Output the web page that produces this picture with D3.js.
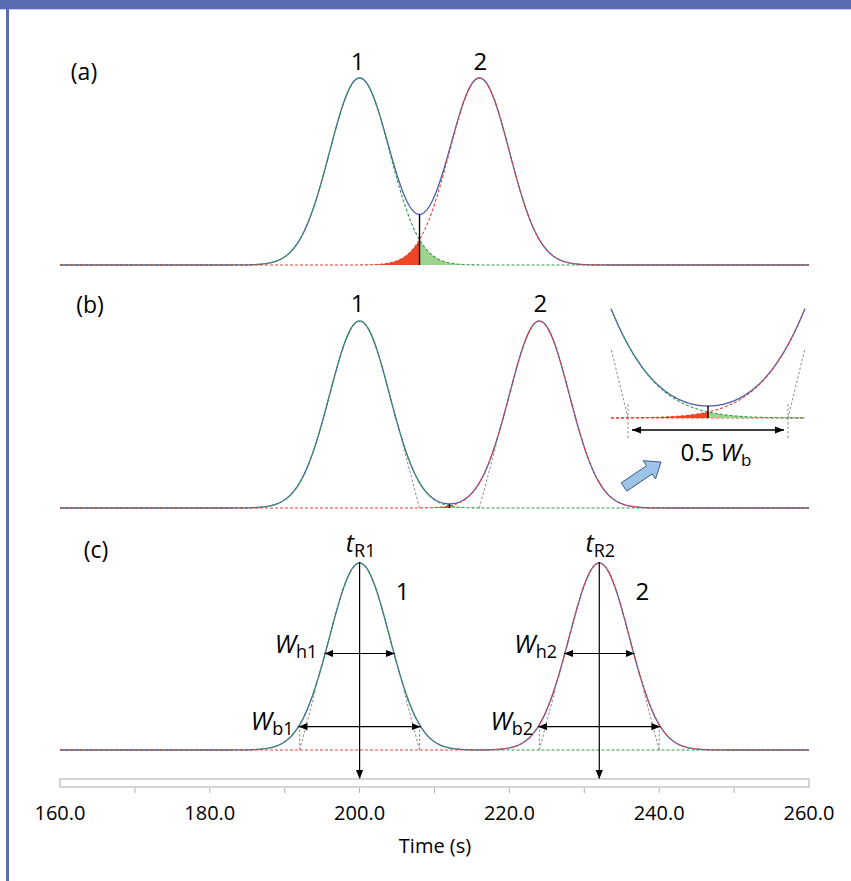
<!DOCTYPE html>
<html>
<head>
<meta charset="utf-8">
<script src="https://cdn.jsdelivr.net/npm/d3@7"></script>
<style>
  body { margin: 0; background: #fff; }
  text { font-family: "Open Sans", "Noto Sans", sans-serif; fill: #000; }
</style>
</head>
<body>
<div id="chart"></div>
<script>
// peak parameters (seconds, relative height)
const panelLabels = ["(a)", "(b)", "(c)"];
const peak1Times = [200, 200, 200];
const peak2Times = [216, 224, 232];
const peakSigma = [4, 4, 4];
const peakHeight = [1, 1, 1];
const tickValues = [170, 180, 190, 200, 210, 220, 230, 240, 250];
const tickLabelValues = [160, 180, 200, 220, 240, 260];
const timeDomain = [160, 260];

const width = 851;
const height = 881;
const baselines = [265, 508, 750];
const peakPx = 187;

const blue = "#4a5fae", green = "#2f9a4c", red = "#e8403a";
const redFill = "#ee4522", greenFill = "#9ed38d", grey = "#8c8c8c";

const svg = d3.select("#chart").append("svg")
  .attr("width", width)
  .attr("height", height);

const defs = svg.append("defs");
defs.append("marker")
  .attr("id", "head")
  .attr("viewBox", "0 0 10 10")
  .attr("refX", 10).attr("refY", 5)
  .attr("markerWidth", 9).attr("markerHeight", 9)
  .attr("markerUnits", "userSpaceOnUse")
  .attr("orient", "auto-start-reverse")
  .append("path").attr("d", "M0,1 L10,5 L0,9 z").attr("fill", "#000");

// frame
svg.append("rect").attr("x", 0).attr("y", 0).attr("width", width).attr("height", 9).attr("fill", "#5b6cb4");
svg.append("rect").attr("x", 0).attr("y", 9).attr("width", width).attr("height", 1).attr("fill", "#c9cfe9");
svg.append("rect").attr("x", 6).attr("y", 0).attr("width", 3).attr("height", height).attr("fill", "#5b6cb4");

const x = d3.scaleLinear().domain(timeDomain).range([60, 809]);
const gauss = (t, mu, s, h) => h * Math.exp(-0.5 * ((t - mu) / s) ** 2);
const ts = d3.range(timeDomain[0], timeDomain[1] + 0.001, 0.1);

function drawCurves(g, xs, ys, times, i) {
  const m1 = peak1Times[i], m2 = peak2Times[i], s = peakSigma[i], h = peakHeight[i];
  const p1 = t => gauss(t, m1, s, h), p2 = t => gauss(t, m2, s, h);
  const line = f => d3.line().x(t => xs(t)).y(t => ys(f(t)))(times);
  g.append("path").attr("d", line(t => p1(t) + p2(t)))
    .attr("fill", "none").attr("stroke", blue).attr("stroke-width", 1.3);
  g.append("path").attr("d", line(p1))
    .attr("fill", "none").attr("stroke", green).attr("stroke-width", 1.1).attr("stroke-dasharray", "3,2");
  g.append("path").attr("d", line(p2))
    .attr("fill", "none").attr("stroke", red).attr("stroke-width", 1.1).attr("stroke-dasharray", "3,2");
}

function drawOverlap(g, xs, ys, times, i) {
  const m1 = peak1Times[i], m2 = peak2Times[i], s = peakSigma[i], h = peakHeight[i];
  const tv = (m1 + m2) / 2;
  const left = times.filter(t => t <= tv).concat([tv]);
  const right = [tv].concat(times.filter(t => t >= tv));
  const area = f => d3.area().x(t => xs(t)).y0(ys(0)).y1(t => ys(f(t)));
  g.append("path").attr("d", area(t => gauss(t, m2, s, h))(left)).attr("fill", redFill);
  g.append("path").attr("d", area(t => gauss(t, m1, s, h))(right)).attr("fill", greenFill);
}

function valleyLine(g, xs, ys, i) {
  const m1 = peak1Times[i], m2 = peak2Times[i], s = peakSigma[i], h = peakHeight[i];
  const tv = (m1 + m2) / 2;
  g.append("line")
    .attr("x1", xs(tv)).attr("x2", xs(tv))
    .attr("y1", ys(0)).attr("y2", ys(gauss(tv, m1, s, h) + gauss(tv, m2, s, h)))
    .attr("stroke", "#000").attr("stroke-width", 1.4);
}

// tangent through the inflection point, from baseline up to a given height
function tangent(g, xs, ys, mu, s, h, side, top, bottom) {
  const tAt = v => mu + side * (2 * s - s * v / (h * Math.exp(-0.5)));
  g.append("line")
    .attr("x1", xs(tAt(bottom))).attr("y1", ys(bottom))
    .attr("x2", xs(tAt(top))).attr("y2", ys(top))
    .attr("stroke", grey).attr("stroke-width", 1).attr("stroke-dasharray", "2.5,2");
}

function sub(text, xPos, yPos, main, subText, anchor, italic) {
  const t = text.append("text").attr("x", xPos).attr("y", yPos)
    .attr("text-anchor", anchor).attr("font-size", 25);
  t.append("tspan").attr("font-style", italic ? "italic" : "normal").text(main);
  t.append("tspan").attr("font-size", 18).attr("dy", 5).text(subText);
  return t;
}

panelLabels.forEach((lab, i) => {
  const g = svg.append("g");
  const y = d3.scaleLinear().domain([0, 1]).range([baselines[i], baselines[i] - peakPx]);
  if (i < 2) drawOverlap(g, x, y, ts, i);
  drawCurves(g, x, y, ts, i);
  if (i < 2) valleyLine(g, x, y, i);
  const s = peakSigma[i], h = peakHeight[i];
  if (i === 1) {
    tangent(g, x, y, peak1Times[i], s, h, 1, 0.35, 0);
    tangent(g, x, y, peak2Times[i], s, h, -1, 0.35, 0);
  }
  if (i === 2) {
    [peak1Times[i], peak2Times[i]].forEach(mu => {
      [-1, 1].forEach(side => {
        tangent(g, x, y, mu, s, h, side, 0.32, 0);
        g.append("line")
          .attr("x1", x(mu + side * 2 * s)).attr("x2", x(mu + side * 2 * s))
          .attr("y1", y(0)).attr("y2", y(0.14))
          .attr("stroke", grey).attr("stroke-width", 1).attr("stroke-dasharray", "2.5,2");
      });
    });
  }
});

// panel letters and peak numbers
const labelPos = [[84, 80], [90, 313], [96, 558]];
panelLabels.forEach((lab, i) => {
  svg.append("text").attr("x", labelPos[i][0]).attr("y", labelPos[i][1])
    .attr("text-anchor", "middle").attr("font-size", 23).text(lab);
});
[0, 1].forEach(i => {
  const yl = i === 0 ? 70 : 312;
  svg.append("text").attr("x", x(peak1Times[i]) - 2).attr("y", yl).attr("text-anchor", "middle").attr("font-size", 24).text("1");
  svg.append("text").attr("x", x(peak2Times[i]) + 1).attr("y", yl).attr("text-anchor", "middle").attr("font-size", 24).text("2");
});

// panel (b) inset: zoom of the valley
{
  const i = 1;
  const m1 = peak1Times[i], m2 = peak2Times[i], s = peakSigma[i], h = peakHeight[i];
  const xs = d3.scaleLinear().domain([207.15, 216.85]).range([611, 805]);
  const ys = d3.scaleLinear().domain([0, 1]).range([418, -122]);
  const ti = d3.range(207.15, 216.851, 0.05);
  const g = svg.append("g");
  g.append("line").attr("x1", 611).attr("x2", 805).attr("y1", 418).attr("y2", 418)
    .attr("stroke", red).attr("stroke-width", 1.2).attr("stroke-dasharray", "3,2");
  drawOverlap(g, xs, ys, ti, i);
  drawCurves(g, xs, ys, ti, i);
  valleyLine(g, xs, ys, i);
  tangent(g, xs, ys, m1, s, h, 1, 0.13, 0);
  tangent(g, xs, ys, m2, s, h, -1, 0.13, 0);
  [m1 + 2 * s, m2 - 2 * s].forEach(t => {
    g.append("line").attr("x1", xs(t)).attr("x2", xs(t)).attr("y1", 404).attr("y2", 440)
      .attr("stroke", grey).attr("stroke-width", 1).attr("stroke-dasharray", "2.5,2");
  });
  g.append("line")
    .attr("x1", xs(m1 + 2 * s) + 4).attr("x2", xs(m2 - 2 * s) - 4)
    .attr("y1", 430).attr("y2", 430)
    .attr("stroke", "#000").attr("stroke-width", 1.3)
    .attr("marker-start", "url(#head)").attr("marker-end", "url(#head)");
  const t = g.append("text").attr("x", 716).attr("y", 461).attr("text-anchor", "middle").attr("font-size", 24);
  t.append("tspan").text("0.5 ");
  t.append("tspan").attr("font-style", "italic").text("W");
  t.append("tspan").attr("font-size", 17).attr("dy", 5).text("b");

  // block arrow pointing at the inset
  const tail = [624, 487], tip = [661, 462];
  const L = Math.hypot(tip[0] - tail[0], tip[1] - tail[1]);
  const u = [(tip[0] - tail[0]) / L, (tip[1] - tail[1]) / L], n = [-u[1], u[0]];
  const pt = (d, w) => [tail[0] + u[0] * d + n[0] * w, tail[1] + u[1] * d + n[1] * w];
  const pts = [pt(0, 5), pt(L - 14, 5), pt(L - 14, 11), pt(L, 0), pt(L - 14, -11), pt(L - 14, -5), pt(0, -5)];
  g.append("polygon").attr("points", pts.map(p => p.join(",")).join(" "))
    .attr("fill", "#9dc3e6").attr("stroke", "#3a5a8c").attr("stroke-width", 1);
}

// panel (c) annotations
{
  const i = 2, s = peakSigma[i], h = peakHeight[i];
  const y = d3.scaleLinear().domain([0, 1]).range([baselines[i], baselines[i] - peakPx]);
  const g = svg.append("g");
  [peak1Times[i], peak2Times[i]].forEach((mu, k) => {
    g.append("line").attr("x1", x(mu)).attr("x2", x(mu)).attr("y1", y(1) - 1).attr("y2", 779)
      .attr("stroke", "#000").attr("stroke-width", 1.2).attr("marker-end", "url(#head)");
    const hw = s * Math.sqrt(2 * Math.log(2));
    g.append("line").attr("x1", x(mu - hw)).attr("x2", x(mu + hw)).attr("y1", y(0.5) - 3).attr("y2", y(0.5) - 3)
      .attr("stroke", "#000").attr("stroke-width", 1.2)
      .attr("marker-start", "url(#head)").attr("marker-end", "url(#head)");
    const bw = s * Math.sqrt(-2 * Math.log(0.125));
    g.append("line").attr("x1", x(mu - bw)).attr("x2", x(mu + bw)).attr("y1", y(0.125)).attr("y2", y(0.125))
      .attr("stroke", "#000").attr("stroke-width", 1.2)
      .attr("marker-start", "url(#head)").attr("marker-end", "url(#head)");
    const n = String(k + 1);
    sub(g, x(mu) + 1, 552, "t", "R" + n, "middle", true);
    g.append("text").attr("x", x(mu) + 43).attr("y", 600).attr("text-anchor", "middle").attr("font-size", 24).text(n);
    sub(g, x(mu - hw) - 7, 653, "W", "h" + n, "end", true);
    sub(g, x(mu - bw) - 5, 730, "W", "b" + n, "end", true);
  });
}

// time axis
const axisG = svg.append("g");
axisG.append("rect").attr("x", 60).attr("y", 779).attr("width", 749).attr("height", 8)
  .attr("fill", "#fff").attr("stroke", "#b8b8b8").attr("stroke-width", 1.2);
axisG.selectAll("line.tick").data(tickValues).enter().append("line")
  .attr("class", "tick")
  .attr("x1", d => x(d)).attr("x2", d => x(d))
  .attr("y1", 788).attr("y2", 793)
  .attr("stroke", "#b0b0b0").attr("stroke-width", 1);
axisG.selectAll("text.lab").data(tickLabelValues).enter().append("text")
  .attr("class", "lab")
  .attr("x", d => x(d)).attr("y", 820)
  .attr("text-anchor", "middle").attr("font-size", 20)
  .text(d => d3.format(".1f")(d));
axisG.append("text").attr("x", 435).attr("y", 853).attr("text-anchor", "middle").attr("font-size", 20).text("Time (s)");
</script>
</body>
</html>
